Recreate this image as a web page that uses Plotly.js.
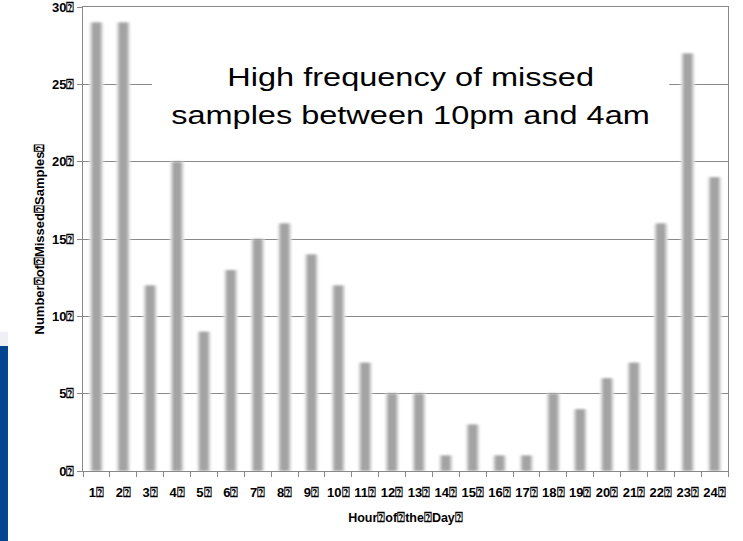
<!DOCTYPE html>
<html>
<head>
<meta charset="utf-8">
<script src="https://cdn.plot.ly/plotly-3.0.1.min.js"></script>
<style>
  html, body { margin: 0; padding: 0; background: #ffffff; }
  #chart { width: 743px; height: 541px; }
  /* the note is set in a widened face */
  #chart .annotation-text {
    transform-box: fill-box;
    transform-origin: center;
    transform: scaleX(1.25);
  }
</style>
</head>
<body>
<div id="chart"></div>
<script>
// Missed samples counted per hour of the day
const hours = ['1⍰','2⍰','3⍰','4⍰','5⍰','6⍰','7⍰','8⍰','9⍰','10⍰','11⍰','12⍰',
               '13⍰','14⍰','15⍰','16⍰','17⍰','18⍰','19⍰','20⍰','21⍰','22⍰','23⍰','24⍰'];
const missedSamples = [29, 29, 12, 20, 9, 13, 15, 16, 14, 12, 7, 5,
                       5, 1, 3, 1, 1, 5, 4, 6, 7, 16, 27, 19];
const yTickVals = [0, 5, 10, 15, 20, 25, 30];
const yTickText = ['0⍰', '5⍰', '10⍰', '15⍰', '20⍰', '25⍰', '30⍰'];
const xTitle = 'Hour⍰of⍰the⍰Day⍰';
const yTitle = 'Number⍰of⍰Missed⍰Samples⍰';
const noteLines = ['High frequency of missed', 'samples between 10pm and 4am'];

const labelFont = { family: '"Liberation Sans", Arial, sans-serif', size: 13, color: '#000000', weight: 'bold' };

// soft-edged bars: a wide pale layer, a mid layer and a dark core
const barLayers = [
  { width: 0.52, color: '#e8e8e8' },
  { width: 0.42, color: '#c8c8c8' },
  { width: 0.30, color: '#a3a3a3' }
];
const traces = barLayers.map(l => ({
  type: 'bar',
  x: hours,
  y: missedSamples,
  width: l.width,
  marker: { color: l.color, line: { width: 0 } },
  hoverinfo: 'skip'
}));

const layout = {
  width: 743,
  height: 541,
  margin: { l: 83, r: 15, t: 7, b: 70 },
  paper_bgcolor: '#ffffff',
  plot_bgcolor: '#ffffff',
  barmode: 'overlay',
  showlegend: false,
  xaxis: {
    type: 'category',
    range: [-0.5, 23.5],
    showgrid: false,
    showline: true,
    mirror: true,
    linecolor: '#888888',
    linewidth: 1,
    ticks: 'outside',
    tickson: 'boundaries',
    ticklen: 5,
    tickcolor: '#888888',
    tickangle: 0,
    ticklabelstandoff: 9,
    tickfont: labelFont,
    title: { text: xTitle, font: { ...labelFont, size: 12.5 }, standoff: 14 }
  },
  yaxis: {
    range: [0, 30],
    tickvals: yTickVals,
    ticktext: yTickText,
    ticklabeloverflow: 'allow',
    showgrid: true,
    gridcolor: '#888888',
    gridwidth: 1,
    zeroline: false,
    showline: true,
    mirror: true,
    linecolor: '#888888',
    linewidth: 1,
    ticks: 'outside',
    ticklen: 5,
    tickcolor: '#888888',
    tickfont: labelFont,
    title: { text: yTitle, font: { ...labelFont, size: 13 }, standoff: 4 }
  },
  shapes: [
    // white panel behind the note
    { type: 'rect', xref: 'paper', yref: 'paper', layer: 'above',
      x0: 0.107, x1: 0.909, y0: 0.70, y1: 0.905,
      fillcolor: '#ffffff', line: { width: 0 } },
    // blue band at the left edge of the page
    { type: 'rect', xref: 'paper', yref: 'paper', layer: 'below',
      x0: -0.1287, x1: -0.1163, y0: -0.151, y1: 0.2694,
      fillcolor: '#03458f', line: { width: 0 } },
    { type: 'rect', xref: 'paper', yref: 'paper', layer: 'below',
      x0: -0.1287, x1: -0.1163, y0: 0.2694, y1: 0.30,
      fillcolor: '#eef0f3', line: { width: 0 } }
  ],
  annotations: noteLines.map((t, i) => ({
    text: t,
    xref: 'paper', yref: 'paper',
    x: 0.507, y: i === 0 ? 0.849 : 0.767,
    xanchor: 'center', yanchor: 'middle',
    showarrow: false,
    font: { family: '"Liberation Sans", Arial, sans-serif', size: 26, color: '#000000' }
  }))
};

Plotly.newPlot('chart', traces, layout, { staticPlot: true, displayModeBar: false }).then(gd => {
  // blur the bar layer so the columns get soft edges
  const svg = gd.querySelector('svg.main-svg');
  const ns = 'http://www.w3.org/2000/svg';
  let defs = svg.querySelector('defs');
  if (!defs) { defs = document.createElementNS(ns, 'defs'); svg.insertBefore(defs, svg.firstChild); }
  const filter = document.createElementNS(ns, 'filter');
  filter.setAttribute('id', 'barSoft');
  filter.setAttribute('x', '-20%'); filter.setAttribute('y', '-5%');
  filter.setAttribute('width', '140%'); filter.setAttribute('height', '110%');
  const blur = document.createElementNS(ns, 'feGaussianBlur');
  blur.setAttribute('stdDeviation', '1.2');
  filter.appendChild(blur);
  defs.appendChild(filter);
  gd.querySelectorAll('.barlayer').forEach(g => g.setAttribute('filter', 'url(#barSoft)'));
});
</script>
</body>
</html>
